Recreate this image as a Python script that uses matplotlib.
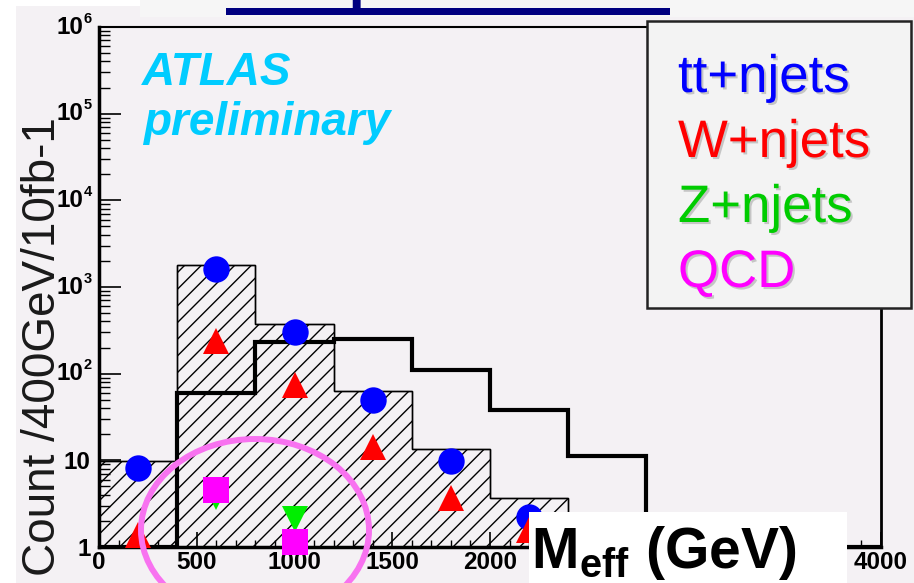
import numpy as np
import matplotlib
matplotlib.use("Agg")
import matplotlib.pyplot as plt
from matplotlib.patches import Rectangle, Ellipse
from matplotlib.ticker import FixedLocator, FixedFormatter, MultipleLocator, LogLocator, NullFormatter
import matplotlib.patheffects as pe
from matplotlib import font_manager

plt.rcParams['font.family'] = ['Liberation Sans', 'DejaVu Sans']
names = {f.name for f in font_manager.fontManager.ttflist}
tick_family = 'Liberation Sans Narrow' if 'Liberation Sans Narrow' in names else 'Liberation Sans'
tick_size = 21 if tick_family == 'Liberation Sans Narrow' else 17.5

plt.rcParams['mathtext.fontset'] = 'custom'
plt.rcParams['mathtext.rm'] = 'Liberation Sans'
plt.rcParams['mathtext.bf'] = 'Liberation Sans:bold'
plt.rcParams['mathtext.it'] = 'Liberation Sans:italic'
plt.rcParams['hatch.linewidth'] = 1.0

# ---------------- data ----------------
bg_edges = [0, 400, 800, 1200, 1600, 2000, 2400]
bg_total = [9.8, 1795, 374, 63, 13.5, 3.7]          # hatched SM background sum
sig_edges = [0, 400, 800, 1200, 1600, 2000, 2400, 2800, 3200, 3600, 4000]
sig_values = [1, 60, 232, 251, 110, 38, 11.2, 1, 1, 1]  # black step line (signal)

tt_x = [200, 600, 1000, 1400, 1800, 2200]
tt_y = [8.2, 1610, 302, 50, 9.8, 2.2]
w_x = [200, 600, 1000, 1400, 1800, 2200]
w_y = [1.37, 240, 74, 14.3, 3.7, 1.57]
z_x = [600, 1000]
z_y = [3.8, 2.1]
qcd_x = [600, 1000]
qcd_y = [4.55, 1.14]

# 2500-3500 labels sit under the white M_eff box in the reference
x_ticks = [0, 500, 1000, 1500, 2000, 2500, 3000, 3500, 4000]
x_tick_labels = ["0", "500", "1000", "1500", "2000", "", "", "", "4000"]
y_ticks = [1, 10, 100, 1000, 1e4, 1e5, 1e6]
y_exps = ["", "", "2", "3", "4", "5", "6"]
y_tick_labels = ["1", "10", "", "", "", "", ""]

legend_labels = ["tt+njets", "W+njets", "Z+njets", "QCD"]
legend_colors = ["#0000ff", "#ff0000", "#00cc00", "#ff00ff"]

# ---------------- figure ----------------
W, H = 914, 583
fig = plt.figure(figsize=(W / 100, H / 100), dpi=100)
fig.patch.set_facecolor('#f4f1f4')

def fx(px):
    return px / W

def fy(py_top):
    return (H - py_top) / H

# left white margin & title strip
fig.add_artist(Rectangle((0, 0), fx(16), 1, transform=fig.transFigure,
                         facecolor='white', edgecolor='none', zorder=-5))
fig.add_artist(Rectangle((fx(140), fy(17)), 1, 17 / H, transform=fig.transFigure,
                         facecolor='#f6f6f6', edgecolor='none', zorder=-5))
fig.add_artist(Rectangle((0, fy(6)), fx(140), 6 / H, transform=fig.transFigure,
                         facecolor='white', edgecolor='none', zorder=-5))

ax = fig.add_axes([fx(99), fy(547), fx(881) - fx(99), fy(27) - fy(547)])
ax.set_facecolor('#f4f1f4')
ax.set_yscale('log')
ax.set_xlim(0, 4000)
ax.set_ylim(1, 1e6)

# hatched background
ax.stairs(bg_total, bg_edges, baseline=0.5, fill=True, facecolor='none',
          edgecolor='black', hatch='//', linewidth=1.0, zorder=2)
ax.stairs(bg_total, bg_edges, baseline=0.5, fill=False, color='black',
          linewidth=1.0, zorder=2)
# signal line
ax.stairs(sig_values, sig_edges, baseline=None, color='black', linewidth=3.0, zorder=3)

# markers
ms = 19
ax.plot(tt_x, tt_y, 'o', color='#0000ff', ms=ms, mew=0, zorder=5, clip_on=False)
ax.plot(w_x, w_y, '^', color='#ff0000', ms=ms, mew=0, zorder=6, clip_on=False)
ax.plot(z_x, z_y, 'v', color='#00ee00', ms=ms, mew=0, zorder=7, clip_on=False)
ax.plot(qcd_x, qcd_y, 's', color='#ff00ff', ms=ms, mew=0, zorder=8, clip_on=False)

# axes style
for side, lw in (('left', 2.5), ('bottom', 2.5), ('top', 1.5), ('right', 2.0)):
    ax.spines[side].set_linewidth(lw)
    ax.spines[side].set_color('black')

ax.xaxis.set_major_locator(FixedLocator(x_ticks))
ax.xaxis.set_major_formatter(FixedFormatter(x_tick_labels))
ax.xaxis.set_minor_locator(MultipleLocator(100))
ax.yaxis.set_major_locator(FixedLocator(y_ticks))
ax.yaxis.set_major_formatter(FixedFormatter(y_tick_labels))
ax.yaxis.set_minor_locator(LogLocator(base=10, subs=range(2, 10), numticks=20))
ax.yaxis.set_minor_formatter(NullFormatter())

ax.tick_params(which='both', direction='in', top=False, right=False, color='black')
ax.tick_params(axis='y', which='major', length=16, width=1.2, pad=6, labelsize=tick_size)
ax.tick_params(axis='y', which='minor', length=8, width=1.0)
ax.tick_params(axis='x', which='major', length=11, width=1.2, pad=3, labelsize=tick_size)
ax.tick_params(axis='x', which='minor', length=5, width=1.0)
for lab in ax.get_xticklabels() + ax.get_yticklabels():
    lab.set_fontweight('bold')
    lab.set_family(tick_family)

# power-of-ten labels: base "10" with raised exponent, in the tick font
for yv, ex in zip(y_ticks, y_exps):
    if not ex:
        continue
    ax.annotate("10", xy=(0, yv), xycoords=('axes fraction', 'data'),
                xytext=(-11.5, 0), textcoords='offset points', ha='right', va='center',
                fontsize=tick_size, fontweight='bold', family=tick_family, annotation_clip=False)
    ax.annotate(ex, xy=(0, yv), xycoords=('axes fraction', 'data'),
                xytext=(-11.0, 6), textcoords='offset points', ha='left', va='center',
                fontsize=tick_size * 0.6, fontweight='bold', family=tick_family,
                annotation_clip=False)

# y label (over the tick labels)
fig.text(fx(43), fy(347), "Count /400GeV/10fb-1", rotation=90, ha='center', va='center',
         fontsize=33, color='#1a1a1a', zorder=20)

# ATLAS preliminary
fig.text(fx(142), fy(85), "ATLAS", fontsize=33, fontweight='bold', fontstyle='italic',
         color='#00ccff', va='baseline', ha='left', zorder=20)
fig.text(fx(143), fy(135), "preliminary", fontsize=33, fontweight='bold', fontstyle='italic',
         color='#00ccff', va='baseline', ha='left', zorder=20)

# legend box
fig.add_artist(Rectangle((fx(647), fy(308)), fx(911) - fx(647), fy(21) - fy(308),
                         transform=fig.transFigure, facecolor='#f3f3f3',
                         edgecolor='#222222', linewidth=1.8, zorder=10))
baselines = [92, 157, 222, 287]
for lab, col, b in zip(legend_labels, legend_colors, baselines):
    fig.text(fx(678), fy(b), lab, fontsize=38, color=col, va='baseline', ha='left', zorder=11,
             path_effects=[pe.SimplePatchShadow(offset=(1.5, -1.5), shadow_rgbFace='#999999',
                                                alpha=0.5), pe.Normal()])

# M_eff label box
fig.add_artist(Rectangle((fx(529), 0), fx(847) - fx(529), fy(512), transform=fig.transFigure,
                         facecolor='white', edgecolor='none', zorder=12))
fig.text(fx(531), fy(568), r"$\mathbf{M}_{\mathbf{eff}}$ (GeV)", fontsize=41, fontweight='bold',
         color='black', va='baseline', ha='left', zorder=13)

# pink ellipse annotation
fig.add_artist(Ellipse((fx(255), fy(530)), 228 / W, 182 / H, transform=fig.transFigure,
                       facecolor='none', edgecolor='#f872f0', linewidth=4.3, zorder=15))

# title remnant (cut off by the top edge, only the underline and a descender show)
fig.add_artist(Rectangle((fx(226), fy(15)), fx(670) - fx(226), 7 / H, transform=fig.transFigure,
                         facecolor='#000080', edgecolor='none', zorder=15))
fig.text(fx(448), fy(-3), "1-lepton mode", fontsize=42, fontweight='bold', color='#000080',
         ha='center', va='baseline', zorder=15)

fig.savefig("out.png", dpi=100, facecolor=fig.get_facecolor())
